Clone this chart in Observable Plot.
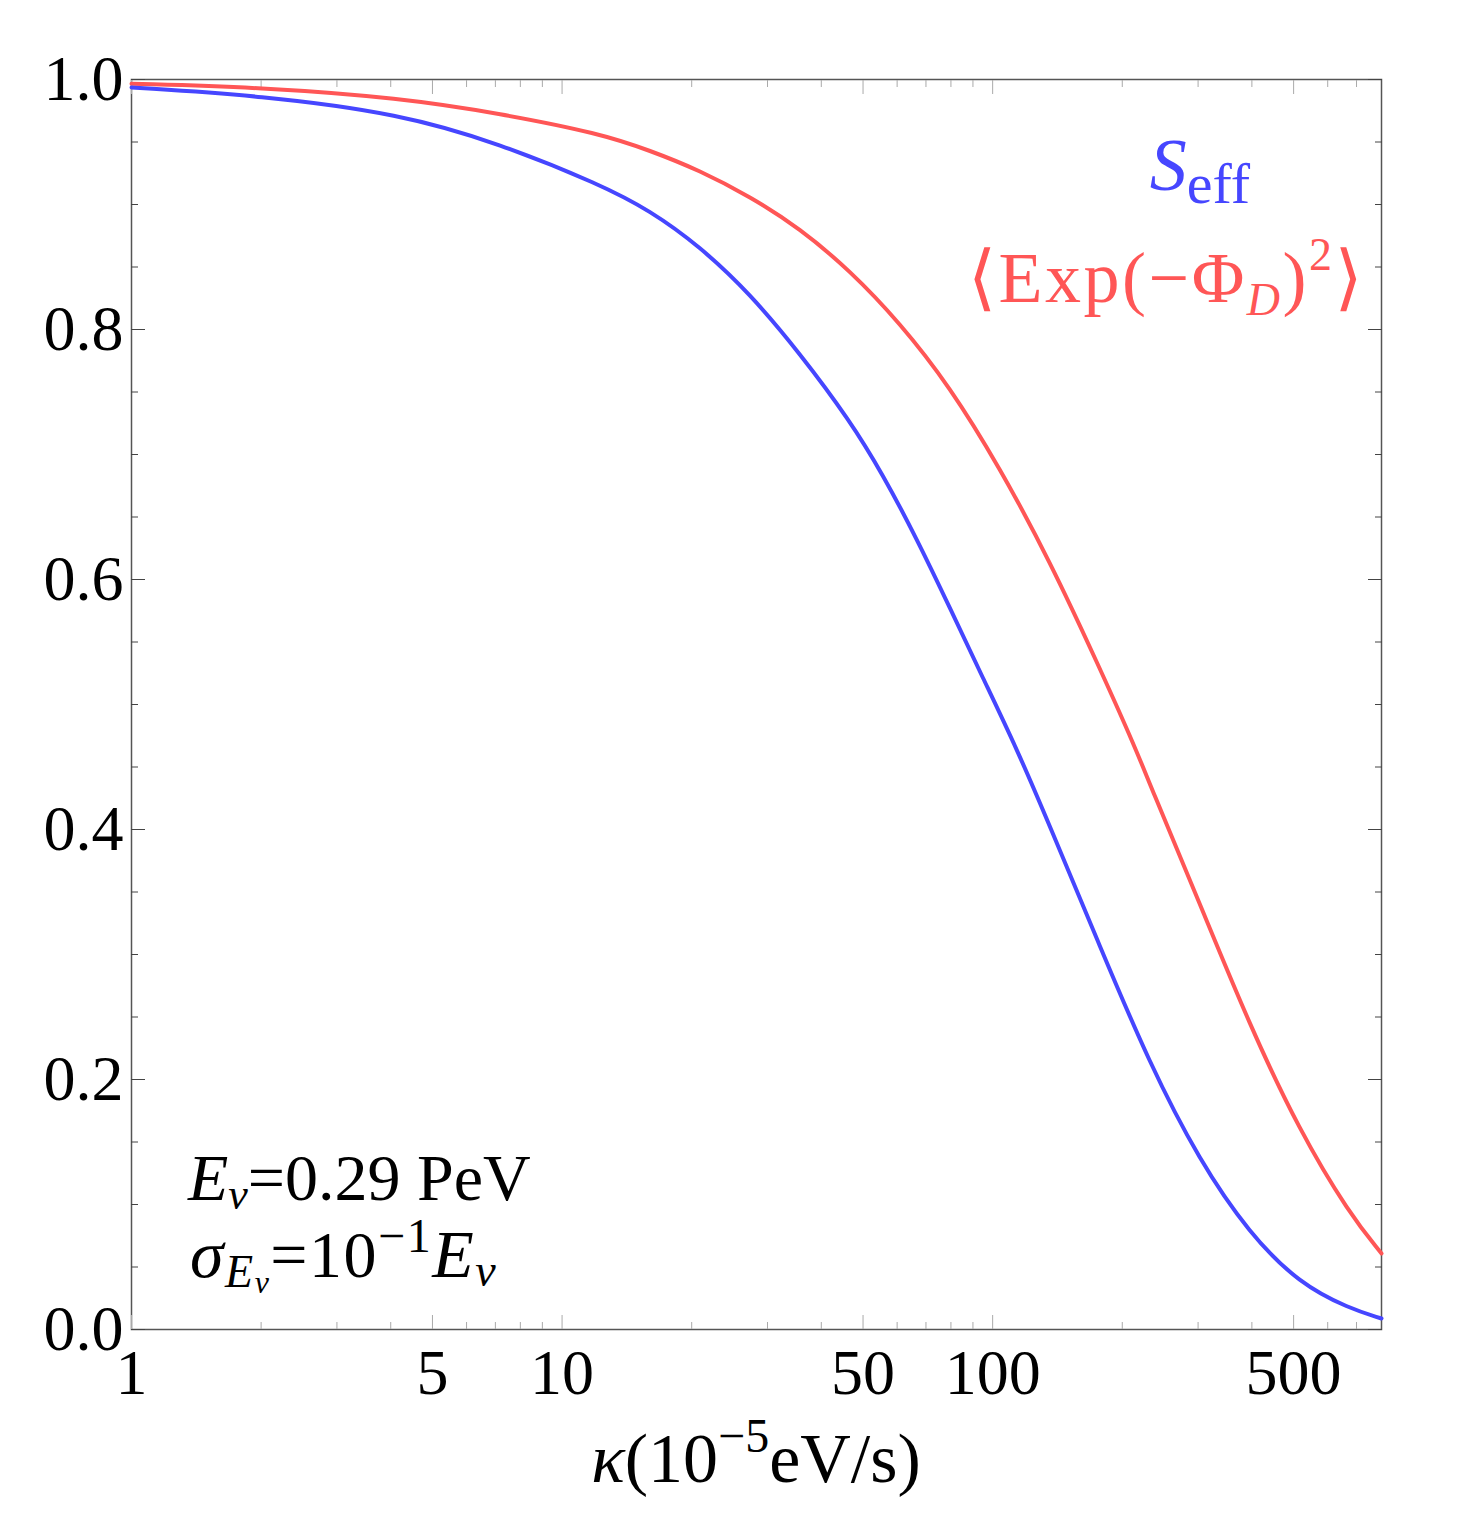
<!DOCTYPE html>
<html><head><meta charset="utf-8">
<script src="https://cdn.jsdelivr.net/npm/d3@7"></script>
<script src="https://cdn.jsdelivr.net/npm/@observablehq/plot@0.6"></script>
<style>body{margin:0;background:#fff}</style>
</head><body><div id="chart"></div>
<script>
// S_eff (blue)
const kappaSeff = [1, 1.99, 4.21, 7.18, 12.25, 16.0, 20.9, 27.3, 35.7, 46.6, 55.6, 66.6, 79.5, 94.8, 114.3, 135.6, 177.1, 231.3, 302, 394.6, 515.5, 673.3, 800];
const valueSeff = [0.9936, 0.9872, 0.9726, 0.9486, 0.9160, 0.8952, 0.8664, 0.8288, 0.7808, 0.7272, 0.6840, 0.6328, 0.5776, 0.5216, 0.4632, 0.4032, 0.3072, 0.2128, 0.1352, 0.0768, 0.0368, 0.0168, 0.0088];
// <Exp(-Phi_D)^2> (red)
const kappaExp = [1, 1.99, 4.21, 7.18, 12.25, 16.0, 20.9, 27.3, 35.7, 46.6, 60.8, 79.5, 103.8, 135.6, 177.1, 215.9, 231.3, 302, 394.6, 515.5, 673.3, 800];
const valueExp = [0.9966, 0.9938, 0.9852, 0.9728, 0.9568, 0.9432, 0.9272, 0.9064, 0.8808, 0.8472, 0.8056, 0.7544, 0.6896, 0.6152, 0.5296, 0.4632, 0.4368, 0.3416, 0.244, 0.1592, 0.0928, 0.0608];

const xMajorTicks = [1, 5, 10, 50, 100, 500];
const xMinorTicks = [2, 3, 4, 6, 7, 8, 9, 20, 30, 40, 60, 70, 80, 90, 200, 300, 400, 600, 700];
const yMajorTicks = [0, 0.2, 0.4, 0.6, 0.8, 1.0];
const yMinorTicks = [0.05, 0.1, 0.15, 0.25, 0.3, 0.35, 0.45, 0.5, 0.55, 0.65, 0.7, 0.75, 0.85, 0.9, 0.95];

const seff = kappaSeff.map((k, i) => ({k, v: valueSeff[i]}));
const expd = kappaExp.map((k, i) => ({k, v: valueExp[i]}));

const blue = "#4646ff";
const red = "#ff5656";
const font = "'Liberation Serif', 'DejaVu Serif', serif";
const empty = () => "";

const plot = Plot.plot({
  width: 1471,
  height: 1534,
  marginLeft: 131,
  marginRight: 90,
  marginTop: 79,
  marginBottom: 205,
  style: {fontFamily: font, background: "#fff", color: "#000"},
  x: {type: "log", domain: [1, 800]},
  y: {domain: [0, 1]},
  marks: [
    Plot.frame({stroke: "#555", strokeWidth: 1.5}),
    // bottom
    Plot.axisX(xMajorTicks, {anchor: "bottom", tickSize: -14, tickFormat: empty, stroke: "#aaa", label: null}),
    Plot.axisX(xMinorTicks, {anchor: "bottom", tickSize: -7, tickFormat: empty, stroke: "#aaa", label: null}),
    Plot.axisX(xMajorTicks, {anchor: "bottom", tickSize: 0, tickPadding: 44, lineAnchor: "middle", tickFormat: d => String(d), fontSize: 64, fill: "#000", label: null}),
    // top
    Plot.axisX(xMajorTicks, {anchor: "top", tickSize: -14, tickFormat: empty, stroke: "#aaa", label: null}),
    Plot.axisX(xMinorTicks, {anchor: "top", tickSize: -7, tickFormat: empty, stroke: "#aaa", label: null}),
    // left
    Plot.axisY(yMajorTicks, {anchor: "left", tickSize: -14, tickFormat: empty, stroke: "#444", label: null}),
    Plot.axisY(yMinorTicks, {anchor: "left", tickSize: -7, tickFormat: empty, stroke: "#444", label: null}),
    Plot.axisY(yMajorTicks, {anchor: "left", tickSize: 0, tickPadding: 8, tickFormat: d3.format(".1f"), fontSize: 64, fill: "#000", label: null}),
    // right
    Plot.axisY(yMajorTicks, {anchor: "right", tickSize: -14, tickFormat: empty, stroke: "#444", label: null}),
    Plot.axisY(yMinorTicks, {anchor: "right", tickSize: -7, tickFormat: empty, stroke: "#444", label: null}),
    // curves
    Plot.line(expd, {x: "k", y: "v", stroke: red, strokeWidth: 4, curve: "basis"}),
    Plot.line(seff, {x: "k", y: "v", stroke: blue, strokeWidth: 4, curve: "basis"})
  ]
});
document.getElementById("chart").append(plot);

// rich text (sub/superscripts) as real SVG text
const svg = d3.select(plot);
function richText(x, y, anchor, color, parts, spacing = 0) {
  const t = svg.append("text")
    .attr("x", x).attr("y", y)
    .attr("text-anchor", anchor)
    .attr("fill", color)
    .style("letter-spacing", spacing + "px")
    .style("font-family", font);
  for (const p of parts) {
    t.append("tspan")
      .attr("dy", p.dy || 0)
      .attr("font-size", p.size)
      .attr("font-style", p.italic ? "italic" : "normal")
      .text(p.t);
  }
}

// legend
richText(1250, 190, "end", blue, [
  {t: "S", size: 74, italic: true},
  {t: "eff", size: 58, dy: 13}
]);
richText(968, 302, "start", red, [
  {t: "⟨", size: 72},
  {t: "Exp(−Φ", size: 72},
  {t: "D", size: 46, italic: true, dy: 13},
  {t: ")", size: 72, dy: -13},
  {t: "2", size: 46, dy: -32},
  {t: "⟩", size: 72, dy: 32}
], 2.5);

// annotation
richText(188, 1200, "start", "#000", [
  {t: "E", size: 66, italic: true},
  {t: "ν", size: 44, italic: true, dy: 9},
  {t: "=0.29 PeV", size: 66, dy: -9}
]);
richText(190, 1277, "start", "#000", [
  {t: "σ", size: 68, italic: true},
  {t: "E", size: 46, italic: true, dy: 10},
  {t: "ν", size: 32, italic: true, dy: 6},
  {t: "=10", size: 66, dy: -16},
  {t: "−1", size: 48, dy: -25},
  {t: "E", size: 68, italic: true, dy: 25},
  {t: "ν", size: 46, italic: true, dy: 9}
], 1.5);

// x axis label
richText(756, 1482, "middle", "#000", [
  {t: "κ", size: 70, italic: true},
  {t: "(10", size: 70},
  {t: "−5", size: 48, dy: -30},
  {t: "eV/s)", size: 70, dy: 30}
]);
</script>
</body></html>
